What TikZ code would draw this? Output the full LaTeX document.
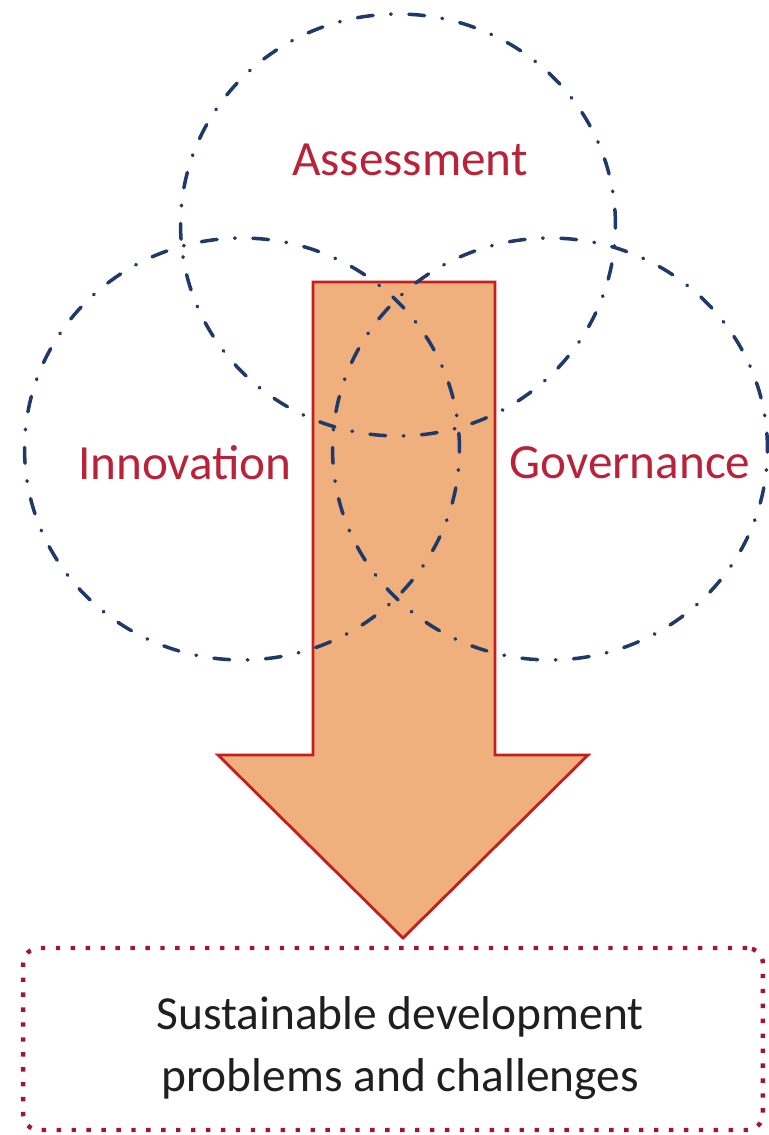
\documentclass[tikz,border=0pt]{standalone}
\usepackage{fontspec}
\setmainfont{Carlito}
\usepackage{tikz}
\usetikzlibrary{shapes.geometric}
\usetikzlibrary{positioning}

\definecolor{ringblue}{HTML}{1F3A68}
\definecolor{labelred}{HTML}{B8233A}
\definecolor{arrowfill}{HTML}{F0B07E}
\definecolor{arrowline}{HTML}{C41E1E}
\definecolor{boxred}{HTML}{A0182E}

\tikzset{
  ring/.style={ellipse, draw=ringblue, line width=2pt, line cap=round,
    dash pattern=on 9pt off 10pt on 0.4pt off 10pt,
    minimum width=8.7cm, minimum height=8.44cm, inner sep=0pt},
  ringlabel/.style={text=labelred, font=\fontsize{28}{32}\selectfont},
}

\begin{document}
\begin{tikzpicture}[x=0.02cm, y=-0.02cm]
    \useasboundingbox (0,0) rectangle (768,1135);
    % big arrow
    \filldraw[fill=arrowfill, draw=arrowline, line width=1.6pt, line join=miter]
      (313,282) -- (495,282) -- (495,755) -- (588,755) -- (403,938)
      -- (218,755) -- (313,755) -- cycle;
    % three rings
    \node[ring] (assess) at (398,225) {};
    \node[ring] (innov) at (242,449) {};
    \node[ring] (govern) at (550,449) {};
    \node[ringlabel] (assesslbl) at (410,160) {Assessment};
    \node[ringlabel] (innovlbl) at (185,463) {Innovation};
    \node[ringlabel] (governlbl) at (630,463) {Governance};
    % result box
    \node[draw=boxred, line width=2.5pt, dash pattern=on 2.5pt off 6pt,
      rounded corners=9pt, minimum width=14.8cm, minimum height=3.64cm]
      (goal) at (393,1039) {};
    \node[align=center, text=black!88, font=\fontsize{27}{35}\selectfont]
      (goaltext) at (400,1048) {Sustainable development\\problems and challenges};
\end{tikzpicture}
\end{document}
